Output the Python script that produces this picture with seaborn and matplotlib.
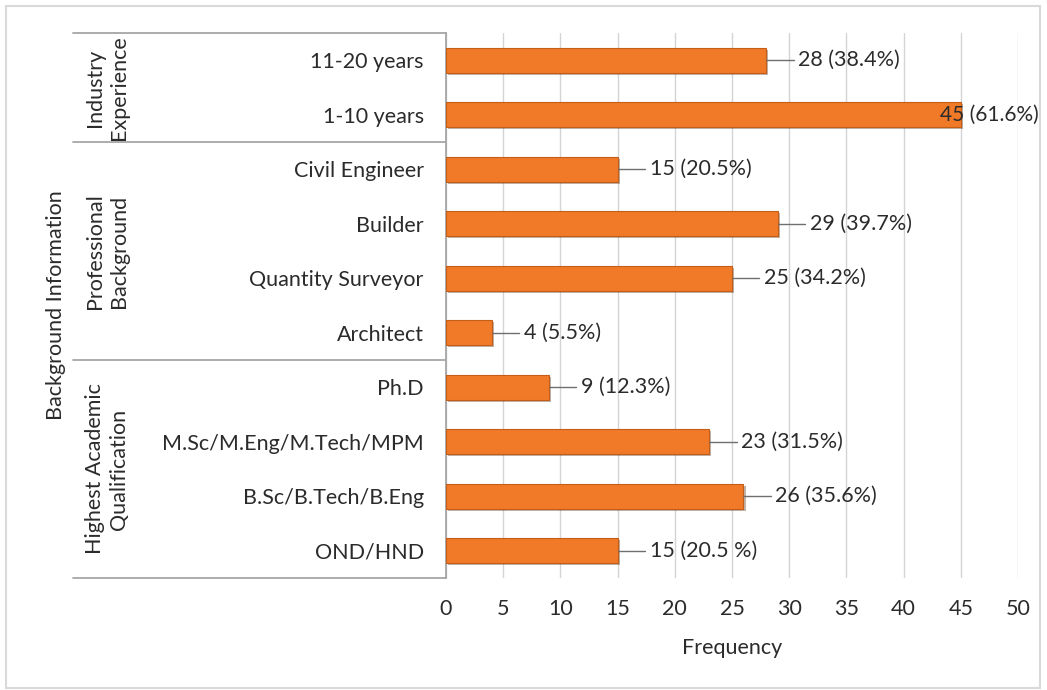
import matplotlib.pyplot as plt
import matplotlib.patheffects as pe
from matplotlib.patches import Rectangle
import seaborn as sns
import pandas as pd

# categories, top to bottom
categories = ['11-20 years', '1-10 years', 'Civil Engineer', 'Builder',
              'Quantity Surveyor', 'Architect', 'Ph.D',
              'M.Sc/M.Eng/M.Tech/MPM', 'B.Sc/B.Tech/B.Eng', 'OND/HND']
frequency = [28, 45, 15, 29, 25, 4, 9, 23, 26, 15]
percent_labels = ['(38.4%)', '(61.6%)', '(20.5%)', '(39.7%)', '(34.2%)',
                  '(5.5%)', '(12.3%)', '(31.5%)', '(35.6%)', '(20.5 %)']
groups = ['Industry\nExperience', 'Professional\nBackground',
          'Highest Academic\nQualification']
group_sizes = [2, 4, 4]
x_ticks = list(range(0, 55, 5))

df = pd.DataFrame({'category': categories, 'frequency': frequency})

sns.set_theme(style='white')
plt.rcParams['font.family'] = ['Lato', 'DejaVu Sans']
FS = 15.5
TXT = '#2b2b2b'

fig = plt.figure(figsize=(10.47, 6.90), dpi=100)
ax = fig.add_axes([446 / 1047, 1 - 578 / 690, (1018 - 446) / 1047, (578 - 33) / 690])

sns.barplot(data=df, x='frequency', y='category', orient='h', ax=ax,
            color='#F07A28', saturation=1, width=0.46,
            edgecolor='#C45E16', linewidth=0.8, zorder=3)
for p in ax.patches:
    p.set_path_effects([pe.SimplePatchShadow(offset=(1.5, -1.5), alpha=0.35),
                        pe.Normal()])

ax.set_xlim(0, 50)
ax.set_ylim(len(categories) - 0.5, -0.5)
ax.set_xticks(x_ticks)
ax.xaxis.grid(True, color='#D4D4D4', linewidth=1, zorder=0)
ax.set_axisbelow(True)
for s in ['top', 'right', 'bottom']:
    ax.spines[s].set_visible(False)
ax.spines['left'].set_color('#A6A6A6')
ax.spines['left'].set_linewidth(1.3)
ax.tick_params(axis='both', length=0, labelsize=FS, colors=TXT)
ax.tick_params(axis='y', pad=16)
ax.tick_params(axis='x', pad=15)
ax.set_ylabel('')
ax.set_xlabel('Frequency', fontsize=FS, color=TXT, labelpad=14)

# data labels with leader lines
for i, (v, pl) in enumerate(zip(frequency, percent_labels)):
    txt = f'{v} {pl}'
    if v >= 45:
        # no room for a leader: label sits over the bar end
        ax.text(v - 1.85, i, txt, va='center', ha='left', fontsize=FS - 0.5,
                color=TXT, zorder=5, clip_on=False)
    else:
        ax.plot([v, v + 2.4], [i, i], color='#6F6F6F', lw=1, zorder=4)
        ax.text(v + 2.8, i, txt, va='center', ha='left', fontsize=FS,
                color=TXT, zorder=5)

# group boxes
trans = ax.get_yaxis_transform()
left_x = (73 - 446) / (1018 - 446)
bounds = [-0.5]
for n in group_sizes:
    bounds.append(bounds[-1] + n)
for b in bounds:
    ax.plot([left_x, 0], [b, b], transform=trans, color='#A6A6A6', lw=1.3,
            clip_on=False)
group_x = (107 - 446) / (1018 - 446)
for g, lo, hi in zip(groups, bounds[:-1], bounds[1:]):
    ax.text(group_x, (lo + hi) / 2, g, transform=trans, rotation=90,
            ha='center', va='center', fontsize=FS, color=TXT,
            linespacing=1.25)
ax.text((56 - 446) / (1018 - 446), 4.5, 'Background Information',
        transform=trans, rotation=90, ha='center', va='center',
        fontsize=FS, color=TXT)

# outer frame
fig.patches.append(Rectangle((6 / 1047, 2 / 690), 1034 / 1047, 682 / 690,
                             transform=fig.transFigure, fill=False,
                             edgecolor='#D9D9D9', linewidth=1.5))

fig.savefig('out.png', dpi=100)
